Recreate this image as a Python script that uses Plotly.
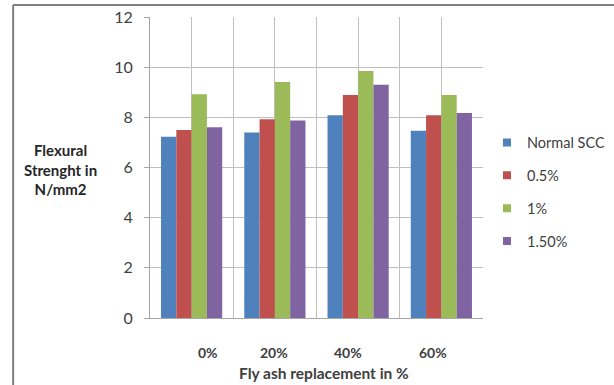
import plotly.graph_objects as go

# Fly ash replacement levels (categories) and fibre dosages (series)
categories = ["0%", "20%", "40%", "60%"]
series_names = ["Normal SCC", "0.5%", "1%", "1.50%"]

normal_scc = [7.23, 7.40, 8.08, 7.47]
fibre_05 = [7.50, 7.92, 8.89, 8.08]
fibre_1 = [8.92, 9.41, 9.85, 8.89]
fibre_150 = [7.60, 7.87, 9.30, 8.17]

y_ticks = [0, 2, 4, 6, 8, 10, 12]

colors = ["#4F81BD", "#C0504D", "#9BBB59", "#8064A2"]
FONT = "Lato, 'Open Sans', sans-serif"
TEXT = "#404040"

fig = go.Figure()
x_idx = list(range(len(categories)))
for name, vals, col in zip(series_names,
                           [normal_scc, fibre_05, fibre_1, fibre_150],
                           colors):
    fig.add_trace(go.Bar(
        x=x_idx, y=vals, name=name, legendgroup=name, showlegend=False,
        marker=dict(color=col, line=dict(width=0)),
        hovertemplate="%{y}<extra>" + name + "</extra>",
    ))
    # small square legend key for each series
    fig.add_trace(go.Scatter(
        x=[None], y=[None], mode="markers", name=name, legendgroup=name,
        marker=dict(symbol="square", size=8, color=col),
    ))

# category labels sit slightly off the group centres
label_shift = [0.20, -0.01, -0.12, -0.10]
annotations = [
    dict(x=i + s, y=0, xref="x", yref="paper", yshift=-34,
         xanchor="center", yanchor="middle", text=f"<b>{c}</b>",
         showarrow=False, font=dict(family=FONT, size=14, color=TEXT))
    for i, (c, s) in enumerate(zip(categories, label_shift))
]
annotations += [
    dict(x=0.523, y=-0.183, xref="paper", yref="paper", xanchor="center",
         yanchor="middle",
         text="<b>Fly ash replacement in %</b>", showarrow=False,
         font=dict(family=FONT, size=15.5, color=TEXT)),
    dict(x=-0.27, y=0.492, xref="paper", yref="paper", xanchor="center",
         text="<b>Flexural<br>Strenght in<br>N/mm2</b>", showarrow=False,
         align="center",
         font=dict(family=FONT, size=15, color="#262626")),
]

frame = dict(color="#7F7F7F", width=2)
shapes = [
    dict(type="line", xref="paper", yref="paper",
         x0=-0.411, x1=1.40, y0=1.04, y1=1.04, line=frame),
    dict(type="line", xref="paper", yref="paper",
         x0=-0.411, x1=-0.411, y0=1.04, y1=-0.25, line=frame),
]

fig.update_layout(
    width=614, height=385,
    margin=dict(l=150, r=131, t=17, b=67, autoexpand=False),
    paper_bgcolor="white", plot_bgcolor="white",
    barmode="group", bargap=0.265, bargroupgap=0,
    font=dict(family=FONT, size=14, color=TEXT),
    xaxis=dict(range=[-0.5, 3.5], tick0=-0.5, dtick=0.5,
               showticklabels=False, ticks="", automargin=False,
               showgrid=True, gridcolor="#BFBFBF", gridwidth=1,
               showline=True, linecolor="#A6A6A6", linewidth=1,
               zeroline=False, fixedrange=True),
    yaxis=dict(range=[0, 12], tickvals=y_ticks, automargin=False,
               ticks="outside", ticklen=5, tickcolor="#A6A6A6",
               showgrid=True, gridcolor="#BFBFBF", gridwidth=1,
               showline=True, linecolor="#A6A6A6", linewidth=1,
               zeroline=False, ticklabelstandoff=8,
               tickfont=dict(family=FONT, size=16, color=TEXT)),
    legend=dict(x=1.012, y=0.4186, xanchor="left", yanchor="middle",
                traceorder="grouped", tracegroupgap=11,
                font=dict(family=FONT, size=14.5, color=TEXT),
                itemwidth=30, bgcolor="rgba(0,0,0,0)"),
    annotations=annotations,
    shapes=shapes,
)

fig.write_html("out.html")
